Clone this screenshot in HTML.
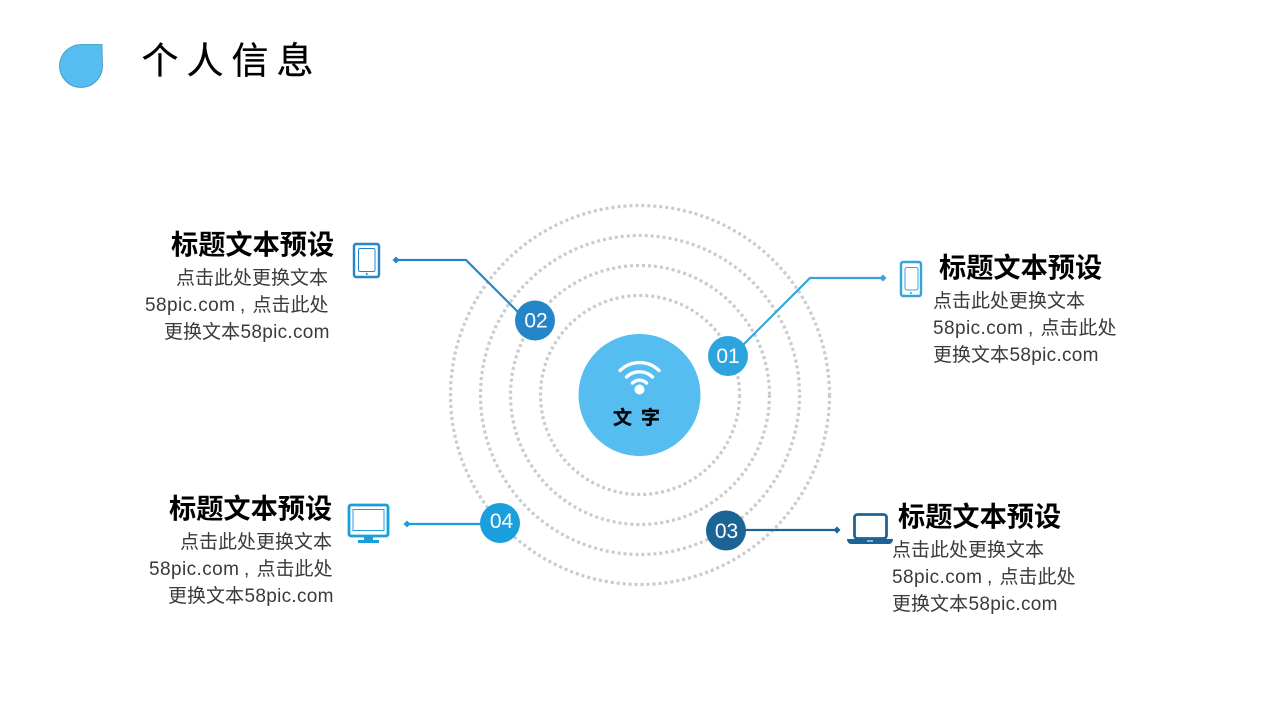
<!DOCTYPE html>
<html lang="zh"><head><meta charset="utf-8"><title>个人信息</title>
<style>
html,body{margin:0;padding:0;background:#fff}
svg{display:block}
text{font-family:"Liberation Sans","Noto Sans CJK SC",sans-serif}
.h{font-size:27.200px;font-weight:700;fill:#000}
.b{font-size:19px;fill:#3a3a3a;font-weight:400}
.n{font-size:21px;fill:#fff;text-anchor:middle}
</style></head><body>
<svg width="1280" height="720" viewBox="0 0 1280 720" xmlns="http://www.w3.org/2000/svg">
<rect width="1280" height="720" fill="#fff"/>
<path d="M102 44.500H81a21.500 21.500 0 1 0 21.500 21.500Z" fill="#56bdf0" stroke="#3c95bd" stroke-width="0.800"/>
<text x="141.500" y="73.500" font-size="37" letter-spacing="8" fill="#000" stroke="#000" stroke-width="0.300">个人信息</text>
<g fill="none" stroke="#c9cbd0" stroke-width="3.200" stroke-dasharray="3 3">
<circle cx="640" cy="395" r="189.500"/><circle cx="640" cy="395" r="159.500"/><circle cx="640" cy="395" r="129.500"/><circle cx="640" cy="395" r="99.500"/>
</g>
<circle cx="639.500" cy="395" r="61" fill="#56bdf0"/>
<g fill="none" stroke="#fff" stroke-width="3.400" stroke-linecap="round">
<path d="M620 370.500a28 28 0 0 1 39 0"/><path d="M626.500 377a19 19 0 0 1 26 0"/><path d="M632.500 383a10 10 0 0 1 14 0"/>
</g>
<circle cx="639.500" cy="389.500" r="5" fill="#fff"/>
<text x="613" y="424" font-size="19" font-weight="700" letter-spacing="9" fill="#000" stroke="#000" stroke-width="0.300">文字</text>

<g fill="none" stroke-width="2.200">
<path d="M396 260H466L520 314" stroke="#2486c8"/>
<path d="M883 278H810L740 348" stroke="#36a3da"/>
<path d="M407 524H490" stroke="#1b9fdc"/>
<path d="M735 530H837" stroke="#1d6496"/>
</g>
<path d="M396 256.500l3.500 3.500-3.500 3.500-3.500-3.500z" fill="#2486c8"/>
<path d="M883 274.500l3.500 3.500-3.500 3.500-3.500-3.500z" fill="#36a3da"/>
<path d="M407 520.500l3.500 3.500-3.500 3.500-3.500-3.500z" fill="#1b9fdc"/>
<path d="M837 526.500l3.500 3.500-3.500 3.500-3.500-3.500z" fill="#1d6496"/>

<circle cx="728" cy="356" r="20" fill="#2ea4df"/><text class="n" x="728" y="363">01</text>
<circle cx="535" cy="320.500" r="20" fill="#2486c8"/><text class="n" x="536" y="327.500">02</text>
<circle cx="726" cy="530.500" r="20" fill="#1d6496"/><text class="n" x="726.500" y="538">03</text>
<circle cx="500" cy="523" r="20" fill="#1b9fdc"/><text class="n" x="501.500" y="528">04</text>

<!-- tablet -->
<g fill="none" stroke="#2486c8">
<rect x="354" y="244" width="25" height="33" rx="2" stroke-width="2.400"/>
<rect x="358.500" y="248.500" width="16.500" height="23" rx="1.500" stroke-width="1"/>
</g><circle cx="366.800" cy="274" r="1" fill="#2486c8"/>
<!-- phone -->
<g fill="none" stroke="#36a3da">
<rect x="901" y="262" width="20" height="34" rx="2" stroke-width="2.400"/>
<rect x="905" y="267.500" width="13" height="22.500" rx="2" stroke-width="1"/>
</g><circle cx="911" cy="293" r="1" fill="#36a3da"/>
<!-- monitor -->
<g fill="none" stroke="#1b9fdc">
<rect x="349" y="505" width="39" height="31" rx="2" stroke-width="2.800"/>
<rect x="353" y="509.500" width="31" height="21" stroke-width="1"/>
</g><path d="M364 537h9v3h6v3h-21v-3h6z" fill="#1b9fdc"/>
<!-- laptop -->
<rect x="854.500" y="514.500" width="32" height="24" rx="3" fill="none" stroke="#1d6496" stroke-width="2.800"/>
<path d="M847 539h46c0 3-2 5-4 5h-38c-2 0-4-2-4-5z" fill="#1d6496"/>
<rect x="867" y="540.500" width="6" height="1" fill="#fff"/>

<!-- block 02 -->
<text class="h" x="171" y="254">标题文本预设</text>
<text class="b" x="176" y="284">点击此处更换文本</text>
<text class="b" y="311"><tspan x="145" textLength="90">58pic.com</tspan><tspan x="240">,</tspan><tspan x="252.500">点击此处</tspan></text>
<text class="b" y="338"><tspan x="164">更换文本</tspan><tspan x="240.500" textLength="89">58pic.com</tspan></text>
<!-- block 01 -->
<text class="h" x="939" y="277">标题文本预设</text>
<text class="b" x="933" y="307">点击此处更换文本</text>
<text class="b" y="334"><tspan x="933" textLength="90">58pic.com</tspan><tspan x="1028">,</tspan><tspan x="1040.500">点击此处</tspan></text>
<text class="b" y="361"><tspan x="933">更换文本</tspan><tspan x="1009.500" textLength="89">58pic.com</tspan></text>
<!-- block 04 -->
<text class="h" x="169" y="518">标题文本预设</text>
<text class="b" x="180" y="548">点击此处更换文本</text>
<text class="b" y="575"><tspan x="149" textLength="90">58pic.com</tspan><tspan x="244">,</tspan><tspan x="256.500">点击此处</tspan></text>
<text class="b" y="602"><tspan x="168">更换文本</tspan><tspan x="244.500" textLength="89">58pic.com</tspan></text>
<!-- block 03 -->
<text class="h" x="898" y="526">标题文本预设</text>
<text class="b" x="892" y="556">点击此处更换文本</text>
<text class="b" y="583"><tspan x="892" textLength="90">58pic.com</tspan><tspan x="987">,</tspan><tspan x="999.500">点击此处</tspan></text>
<text class="b" y="610"><tspan x="892">更换文本</tspan><tspan x="968.500" textLength="89">58pic.com</tspan></text>
</svg>
</body></html>
